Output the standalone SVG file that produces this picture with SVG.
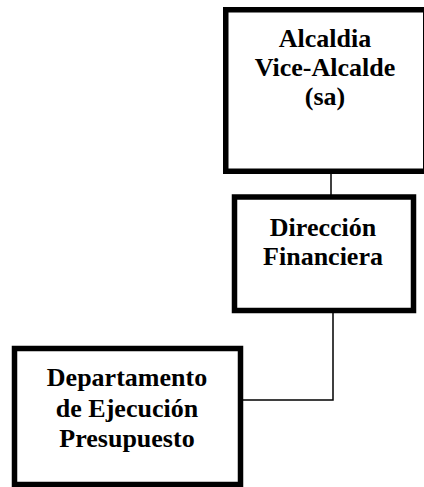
<svg xmlns="http://www.w3.org/2000/svg" width="424" height="487" viewBox="0 0 424 487">
<style>
.box{fill:#fff;stroke:#000;stroke-width:5.5}
.t{font-family:"Liberation Serif","Times New Roman",serif;font-weight:bold;font-size:26px;text-anchor:middle;fill:#000}
.c{fill:none;stroke:#000;stroke-width:1.5}
</style>
<rect width="424" height="487" fill="#fff"/>
<g id="connectors">
<line class="c" x1="331" y1="172" x2="331" y2="196"/>
<polyline class="c" points="333,311 333,400 240,400"/>
</g>
<g id="alcaldia">
<rect class="box" x="225.75" y="9.75" width="200" height="161.5"/>
<text class="t" x="325" y="47">Alcaldia</text>
<text class="t" x="325" y="76">Vice-Alcalde</text>
<text class="t" x="325" y="105">(sa)</text>
</g>
<g id="direccion">
<rect class="box" x="234.5" y="197" width="179" height="113.5"/>
<text class="t" x="323" y="236">Dirección</text>
<text class="t" x="323" y="265">Financiera</text>
</g>
<g id="departamento">
<rect class="box" x="14.5" y="348.5" width="226" height="136"/>
<text class="t" x="127" y="386">Departamento</text>
<text class="t" x="127" y="417">de Ejecución</text>
<text class="t" x="127" y="447">Presupuesto</text>
</g>
</svg>
